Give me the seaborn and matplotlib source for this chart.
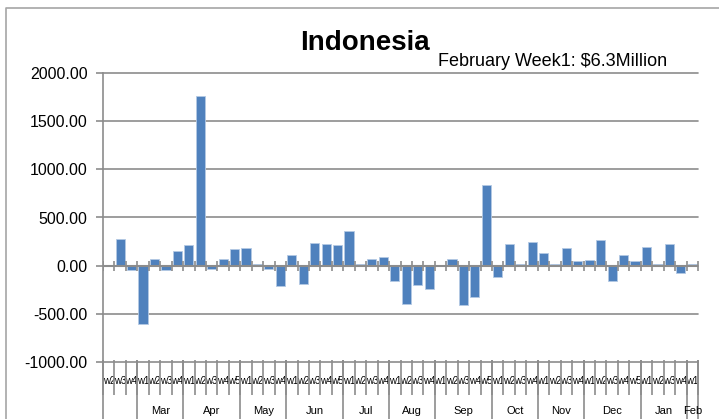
import numpy as np
import pandas as pd
import matplotlib.pyplot as plt
import matplotlib.lines as mlines
import seaborn as sns

# weekly values
weeks = ["w2", "w3", "w4",
         "w1", "w2", "w3", "w4",
         "w1", "w2", "w3", "w4", "w5",
         "w1", "w2", "w3", "w4",
         "w1", "w2", "w3", "w4", "w5",
         "w1", "w2", "w3", "w4",
         "w1", "w2", "w3", "w4",
         "w1", "w2", "w3", "w4", "w5",
         "w1", "w2", "w3", "w4",
         "w1", "w2", "w3", "w4",
         "w1", "w2", "w3", "w4", "w5",
         "w1", "w2", "w3", "w4",
         "w1"]
months = ["", "Mar", "Apr", "May", "Jun", "Jul", "Aug", "Sep", "Oct", "Nov", "Dec", "Jan", "Feb"]
weeks_per_month = [3, 4, 5, 4, 5, 4, 4, 5, 4, 4, 5, 4, 1]
values = [10, 275, -50, -610, 70, -50, 155, 210, 1760, -35,
          72, 169, 183, 15, -35, -214, 114, -186, 238, 224,
          210, 362, 15, 72, 86, -159, -393, -204, -242, 0,
          72, -407, -324, 838, -121, 224, 15, 248, 128, 15,
          183, 45, 59, 266, -159, 114, 45, 197, 15, 224,
          -76, 15]
yticks = [-1000, -500, 0, 500, 1000, 1500, 2000]

sns.set_style("white")
plt.rcParams["font.family"] = ["Liberation Sans", "DejaVu Sans"]
plt.rcParams["text.color"] = "black"
plt.rcParams["xtick.labelcolor"] = "black"
plt.rcParams["ytick.labelcolor"] = "black"

df = pd.DataFrame({"idx": np.arange(len(values)), "value": values})

fig = plt.figure(figsize=(7.19, 4.19), dpi=100)
ax = fig.add_axes([103 / 719, 1 - 362 / 419, 595 / 719, 289 / 419])

sns.barplot(data=df, x="idx", y="value", color="#4F81BD", saturation=1,
            width=0.8, edgecolor="#B4C9E4", linewidth=0.6, ax=ax, zorder=3)

grey = "#8C8C8C"
ax.set_ylim(-1000, 2000)
ax.set_xlim(-0.5, len(values) - 0.5)
ax.set_yticks(yticks)
ax.set_yticklabels(["%.2f" % t for t in yticks], fontsize=11.5)
ax.yaxis.grid(True, color=grey, linewidth=1.2)
for gl in ax.get_ygridlines():
    gl.set_clip_on(False)
ax.set_axisbelow(True)
for s in ["top", "right", "bottom"]:
    ax.spines[s].set_visible(False)
ax.spines["left"].set_color(grey)
ax.spines["left"].set_linewidth(1.2)
ax.tick_params(axis="y", direction="out", length=5, width=1.2, color=grey, pad=6, left=True)
ax.set_xlabel("")
ax.set_ylabel("")

# week labels under the plot
ax.set_xticks(df["idx"])
ax.set_xticklabels(weeks, fontsize=7)
ax.tick_params(axis="x", length=0, pad=10)

# zero axis with category tick marks
bounds = np.arange(len(values) + 1) - 0.5
ax.axhline(0, color=grey, linewidth=1.5, zorder=4)
ax.plot(bounds, np.zeros(len(bounds)), ls="", marker="|", ms=7, mew=1.2, color=grey, zorder=4)

# separators for weeks and months
trans = ax.get_xaxis_transform()
ax.vlines(bounds, 0.008, -0.114, transform=trans, color=grey, linewidth=1.2, clip_on=False)
month_edges = np.concatenate([[0], np.cumsum(weeks_per_month)]) - 0.5
ax.vlines(month_edges, 0.008, -0.2, transform=trans, color=grey, linewidth=1.2, clip_on=False)
for m, a, b in zip(months, month_edges[:-1], month_edges[1:]):
    ax.text((a + b) / 2, -0.17, m, transform=trans, ha="center", va="center", fontsize=8)

# titles
fig.text(0.508, 0.897, "Indonesia", ha="center", va="center", fontsize=20, fontweight="bold")
fig.text(438 / 719, 1 - 62 / 419, "February Week1: $6.3Million", ha="left", va="center", fontsize=13)

# chart area border
fig.add_artist(mlines.Line2D([6 / 719, 6 / 719, 1], [0, 1 - 8 / 419, 1 - 8 / 419],
                             transform=fig.transFigure, color="#A6A6A6", linewidth=1.2))

fig.savefig("out.png", dpi=100)
